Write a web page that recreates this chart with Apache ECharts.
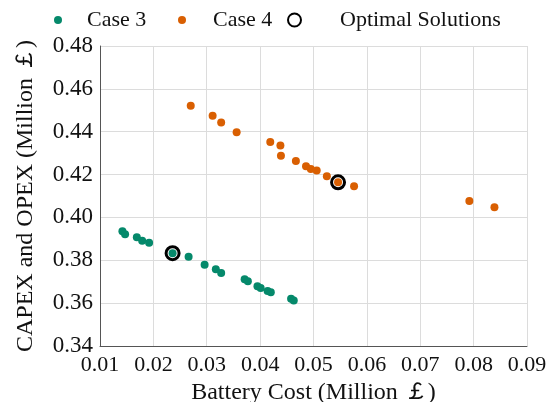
<!DOCTYPE html>
<html><head><meta charset="utf-8">
<script src="https://cdn.jsdelivr.net/npm/echarts@6/dist/echarts.min.js"></script>
<style>html,body{margin:0;padding:0;background:#fff}#c{width:555px;height:402px}</style>
</head><body><div id="c"></div>
<script>
var case3X = [0.0142,0.0147,0.0169,0.0179,0.0192,0.0236,0.0266,0.0296,0.0317,0.0327,0.0371,0.0377,0.0395,0.0401,0.0414,0.0420,0.0458,0.0463];
var case3Y = [0.3936,0.3922,0.3907,0.3891,0.3882,0.3833,0.3817,0.3779,0.3758,0.3741,0.3712,0.3702,0.3679,0.3671,0.3657,0.3651,0.3620,0.3612];
var case4X = [0.0270,0.0311,0.0327,0.0356,0.0419,0.0438,0.0439,0.0467,0.0486,0.0495,0.0506,0.0525,0.0546,0.0576,0.0792,0.0839];
var case4Y = [0.4521,0.4474,0.4443,0.4398,0.4352,0.4336,0.4288,0.4263,0.4239,0.4226,0.4219,0.4192,0.4164,0.4145,0.4077,0.4047];
var optX = [0.0236,0.0546];
var optY = [0.3833,0.4164];
var xTicks = ['0.01','0.02','0.03','0.04','0.05','0.06','0.07','0.08','0.09'];
var yTicks = ['0.34','0.36','0.38','0.40','0.42','0.44','0.46','0.48'];

function zip(a,b){return a.map(function(v,i){return [v,b[i]];});}
var font = '"Liberation Serif","Times New Roman",serif';
var chart = echarts.init(document.getElementById('c'));
chart.setOption({
  animation:false,
  textStyle:{fontFamily:font},
  legend:[
    {data:['Case 3'],left:49,top:4,icon:'circle',itemWidth:8,itemHeight:8,textStyle:{fontFamily:font,fontSize:22,color:'#111',padding:[0,0,0,20]}},
    {data:['Case 4'],left:173,top:4,icon:'circle',itemWidth:8,itemHeight:8,textStyle:{fontFamily:font,fontSize:22,color:'#111',padding:[0,0,0,22]}},
    {data:['Optimal Solutions'],left:282,top:4,icon:'circle',itemWidth:13,itemHeight:13,textStyle:{fontFamily:font,fontSize:22,color:'#111',padding:[0,0,0,34]}}
  ],
  grid:{left:100,right:28,top:46,bottom:56,outerBoundsMode:'none',containLabel:false},
  xAxis:{type:'value',min:0.01,max:0.09,interval:0.01,
    name:'Battery Cost (Million \uFFE1)',nameLocation:'middle',nameGap:32,
    nameTextStyle:{fontFamily:font,fontSize:24,color:'#111'},
    axisLine:{show:true,lineStyle:{color:'#555',width:1}},axisTick:{show:false},
    axisLabel:{fontFamily:font,fontSize:22,color:'#111',margin:8,formatter:function(v){var i=Math.round((v-0.01)/0.01);return xTicks[i];}},
    splitLine:{show:true,lineStyle:{color:'#dcdcdc',width:1}}},
  yAxis:{type:'value',min:0.34,max:0.48,interval:0.02,
    name:'CAPEX and OPEX (Million \uFFE1)',nameLocation:'middle',nameGap:62,
    nameTextStyle:{fontFamily:font,fontSize:24,color:'#111'},
    axisLine:{show:true,lineStyle:{color:'#555',width:1}},axisTick:{show:false},
    axisLabel:{fontFamily:font,fontSize:23,color:'#111',margin:7,formatter:function(v){var i=Math.round((v-0.34)/0.02);return yTicks[i];}},
    splitLine:{show:true,lineStyle:{color:'#dcdcdc',width:1}}},
  series:[
    {name:'Case 3',type:'scatter',symbolSize:8,data:zip(case3X,case3Y),itemStyle:{color:'#05896b',opacity:1},z:2},
    {name:'Case 4',type:'scatter',symbolSize:8,data:zip(case4X,case4Y),itemStyle:{color:'#d95f02',opacity:1},z:2},
    {name:'Optimal Solutions',type:'scatter',symbol:'circle',symbolSize:13,data:zip(optX,optY),
      itemStyle:{color:'rgba(255,255,255,0)',borderColor:'#000',borderWidth:3,opacity:1},z:3}
  ]
});
</script></body></html>
